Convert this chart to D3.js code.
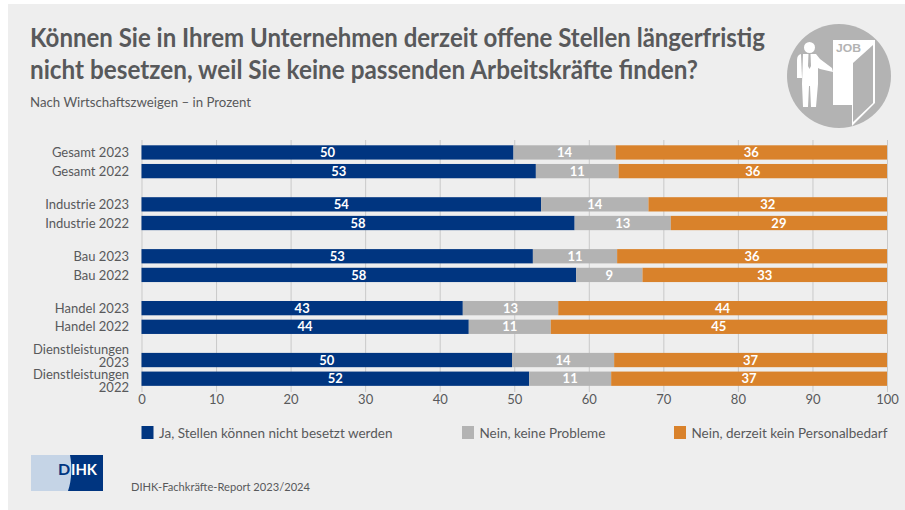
<!DOCTYPE html>
<html>
<head>
<meta charset="utf-8">
<script src="https://cdnjs.cloudflare.com/ajax/libs/d3/7.8.5/d3.min.js"></script>
<style>
  html, body { margin: 0; padding: 0; background: #fff; }
  svg text { font-family: Lato, "Noto Sans", sans-serif; fill: #58595b; }
</style>
</head>
<body>
<div id="chart"></div>
<script>
// The data
let groups = ["Gesamt", "Industrie", "Bau", "Handel", "Dienstleistungen"];
let years = ["2023", "2022"];
let yes = [49.9, 52.9, 53.6, 58.1, 52.5, 58.3, 43.1, 43.9, 49.7, 52.0];
let noProblem = [13.7, 11.1, 14.4, 12.9, 11.3, 8.9, 12.8, 11.0, 13.7, 11.0];
let noDemand = [36.4, 36.0, 32.0, 29.0, 36.2, 32.8, 44.1, 45.1, 36.6, 37.0];
let seriesNames = ["Ja, Stellen können nicht besetzt werden", "Nein, keine Probleme", "Nein, derzeit kein Personalbedarf"];
let seriesColors = ["#003580", "#b3b3b3", "#d9822b"];
let xTicks = [0, 10, 20, 30, 40, 50, 60, 70, 80, 90, 100];

// build rows for the stack
let rows = [];
groups.forEach(function (g, i) {
    years.forEach(function (yr, j) {
        let k = i * 2 + j;
        rows.push({ group: g, year: yr, a: yes[k], b: noProblem[k], c: noDemand[k] });
    });
});

let svg = d3.select("#chart").append("svg")
    .attr("width", 905)
    .attr("height", 510)
    .style("display", "block");

// background panel
svg.append("rect").attr("x", 8).attr("y", 4).attr("width", 897).attr("height", 506).attr("fill", "#eeeeee");

// titles
svg.append("text").attr("x", 30).attr("y", 47).attr("font-size", 26).attr("font-weight", 700)
    .attr("textLength", 735).attr("lengthAdjust", "spacingAndGlyphs")
    .text("Können Sie in Ihrem Unternehmen derzeit offene Stellen längerfristig");
svg.append("text").attr("x", 30).attr("y", 79).attr("font-size", 26).attr("font-weight", 700)
    .attr("textLength", 668).attr("lengthAdjust", "spacingAndGlyphs")
    .text("nicht besetzen, weil Sie keine passenden Arbeitskräfte finden?");
svg.append("text").attr("x", 30).attr("y", 107).attr("font-size", 13)
    .attr("textLength", 221).attr("lengthAdjust", "spacingAndGlyphs")
    .text("Nach Wirtschaftszweigen – in Prozent");

// scales
let x = d3.scaleLinear().domain([0, 100]).range([141.5, 887]);
let y0 = d3.scaleBand().domain(groups).range([145.3, 145.3 + 51.9 * 4.635]).paddingInner(0.365);
let y1 = d3.scaleBand().domain(years).range([0, y0.bandwidth()]).paddingInner(0.235);

// axis and grid
let axis = svg.append("g")
    .attr("transform", "translate(0,392)")
    .call(d3.axisBottom(x).tickValues(xTicks).tickSize(-252).tickPadding(1));
axis.select(".domain").remove();
axis.selectAll("line").attr("stroke", "#c9c9c9").attr("stroke-width", 1);
axis.selectAll("text").attr("font-size", 13).attr("font-family", 'Lato, "Noto Sans", sans-serif').attr("dy", "0.85em");

// stacked bars
let stack = d3.stack().keys(["a", "b", "c"]);
let layers = svg.selectAll(".layer")
    .data(stack(rows))
    .join("g")
    .attr("class", "layer")
    .attr("fill", function (d, i) { return seriesColors[i]; });

layers.selectAll("rect")
    .data(function (d) { return d; })
    .join("rect")
    .attr("x", function (d) { return x(d[0]); })
    .attr("y", function (d) { return y0(d.data.group) + y1(d.data.year); })
    .attr("width", function (d) { return x(d[1]) - x(d[0]); })
    .attr("height", y1.bandwidth());

layers.selectAll("text")
    .data(function (d) { return d; })
    .join("text")
    .attr("x", function (d) { return x((d[0] + d[1]) / 2); })
    .attr("y", function (d) { return y0(d.data.group) + y1(d.data.year) + y1.bandwidth() / 2; })
    .attr("dy", "0.36em")
    .attr("text-anchor", "middle")
    .attr("font-size", 13)
    .attr("font-weight", 700)
    .style("fill", "#ffffff")
    .text(function (d) { return Math.round(d[1] - d[0]); });

// row labels, Dienstleistungen wraps on two lines
rows.forEach(function (r) {
    let cy = y0(r.group) + y1(r.year) + y1.bandwidth() / 2;
    let lab = svg.append("text").attr("text-anchor", "end").attr("font-size", 13);
    if (r.group === "Dienstleistungen") {
        // the wrapped labels sit unevenly round their bars, same as the original
        let top = r.year === "2023" ? cy - 6 : cy + 0.5;
        lab.append("tspan").attr("x", 129).attr("y", top).text(r.group);
        lab.append("tspan").attr("x", 129).attr("y", top + 13).text(r.year);
    } else {
        lab.attr("x", 129).attr("y", cy).attr("dy", "0.36em").text(r.group + " " + r.year);
    }
});

// legend
let legendX = [141.5, 462, 674];
seriesNames.forEach(function (name, i) {
    svg.append("rect").attr("x", legendX[i]).attr("y", 426).attr("width", 12).attr("height", 13).attr("fill", seriesColors[i]);
    svg.append("text").attr("x", legendX[i] + 17.5).attr("y", 437.5).attr("font-size", 13.5).text(name);
});

// source
svg.append("text").attr("x", 131).attr("y", 491).attr("font-size", 11.5)
    .attr("textLength", 179).attr("lengthAdjust", "spacingAndGlyphs")
    .text("DIHK-Fachkräfte-Report 2023/2024");

// DIHK logo
let logo = svg.append("g");
logo.append("rect").attr("x", 31).attr("y", 455).attr("width", 72).attr("height", 36).attr("fill", "#c5d4e6");
logo.append("path").attr("d", "M70,455 H103 V491 H68 C72,480 72,465 70,455 Z").attr("fill", "#003580");
logo.append("text").attr("x", 58).attr("y", 474.5).attr("font-size", 16).attr("font-weight", 700)
    .style("fill", "#003580").text("D");
logo.append("text").attr("x", 71).attr("y", 474.5).attr("font-size", 16).attr("font-weight", 700)
    .attr("textLength", 26).attr("lengthAdjust", "spacingAndGlyphs")
    .style("fill", "#ffffff").text("IHK");

// job icon
let icon = svg.append("g");
icon.append("circle").attr("cx", 839).attr("cy", 76).attr("r", 52).attr("fill", "#b3b3b3");
icon.append("path").attr("d", "M833,40 H875 V103 L852,126 V105 H833 Z").attr("fill", "#ffffff");
icon.append("path").attr("d", "M853,63 L873,45 V103 L853,122 Z").attr("fill", "#b3b3b3");
icon.append("text").attr("x", 836).attr("y", 52).attr("font-size", 10).attr("font-weight", 700)
    .style("font-family", "Liberation Sans").style("fill", "#b3b3b3")
    .attr("textLength", 25).attr("lengthAdjust", "spacingAndGlyphs").text("JOB");
icon.append("circle").attr("cx", 809.5).attr("cy", 47.5).attr("r", 5.5).attr("fill", "#ffffff");
icon.append("path")
    .attr("d", "M803,54 H816 L820,59 L832,68 L833,72 L820,69 L818,68 V84 L816,107 H811 L810,86 H809 L808,107 H803 L802,84 Z")
    .attr("fill", "#ffffff");
icon.append("path").attr("d", "M797,60 Q797,55 801,54 L802,78 H797 Z").attr("fill", "#ffffff");
icon.append("path").attr("d", "M808.5,54 H810.5 L811,66 L809.5,69 L808,66 Z").attr("fill", "#b3b3b3");
</script>
</body>
</html>
